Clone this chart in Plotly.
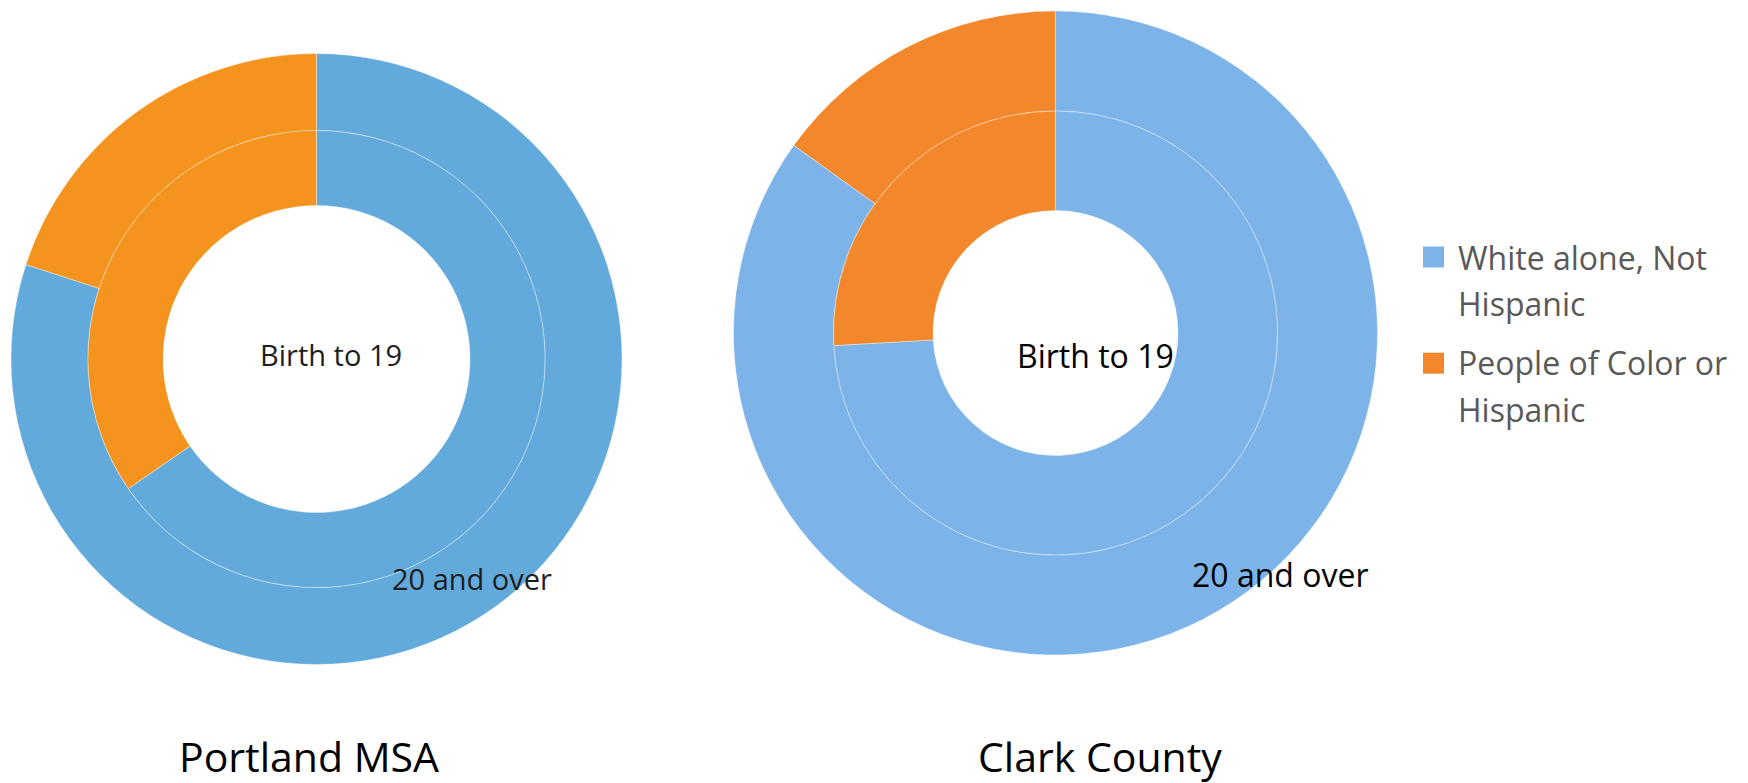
import plotly.graph_objects as go

# browser body margin (the figure div starts 8px from the window corner)
OFF = 8
SCREEN_W, SCREEN_H = 1748, 783
W, H = SCREEN_W - OFF, SCREEN_H - OFF

# ---------------- data ----------------
categories = ["White alone, Not Hispanic", "People of Color or Hispanic"]
ring_labels = ["Birth to 19", "20 and over"]
chart_titles = ["Portland MSA", "Clark County"]

portland_birth_to_19 = [65.4, 34.6]
portland_20_and_over = [80.0, 20.0]
clark_birth_to_19 = [74.1, 25.9]
clark_20_and_over = [84.9, 15.1]

# ---------------- styling ----------------
portland_colors = ["#62A9DC", "#F4931E"]
clark_colors = ["#7CB4EA", "#F3872C"]
legend_lines = [["White alone, Not", "Hispanic"], ["People of Color or", "Hispanic"]]
FONT = "Open Sans"


def px(x):
    return (x - OFF) / W


def py(y):
    return 1 - (y - OFF) / H


def domain(cx, cy, r):
    return dict(x=[px(cx - r), px(cx + r)], y=[py(cy + r), py(cy - r)])


fig = go.Figure()

donuts = [
    # cx, cy, r_out, r_mid, r_hole (screen px), inner values, outer values, colors
    (316.5, 359, 305.5, 228.5, 153.5, portland_birth_to_19, portland_20_and_over, portland_colors),
    (1055.5, 333, 322, 222, 122.5, clark_birth_to_19, clark_20_and_over, clark_colors),
]

for cx, cy, r_out, r_mid, r_hole, inner, outer, cols in donuts:
    fig.add_trace(go.Pie(
        labels=categories, values=outer, domain=domain(cx, cy, r_out),
        hole=r_mid / r_out, sort=False, direction="clockwise", rotation=0,
        textinfo="none", showlegend=False,
        marker=dict(colors=cols, line=dict(color="rgba(255,255,255,0.45)", width=0.8)),
    ))
    fig.add_trace(go.Pie(
        labels=categories, values=inner, domain=domain(cx, cy, r_mid),
        hole=r_hole / r_mid, sort=False, direction="clockwise", rotation=0,
        textinfo="none", showlegend=False,
        marker=dict(colors=cols, line=dict(color="rgba(255,255,255,0.45)", width=0.8)),
    ))

annotations = []


def add_text(text, x, y, size, color, xanchor="center"):
    annotations.append(dict(
        text=text, x=px(x), y=py(y), xref="paper", yref="paper",
        xanchor=xanchor, yanchor="middle", showarrow=False,
        font=dict(family=FONT, size=size, color=color),
    ))


# ring labels
add_text(ring_labels[0], 331, 354, 29, "#1e1e1e")
add_text(ring_labels[1], 472, 578, 29, "#1e1e1e")
add_text(ring_labels[0], 1095.5, 356, 32, "#000000")
add_text(ring_labels[1], 1279.5, 574, 32, "#000000")

# titles
add_text(chart_titles[0], 309, 756, 41, "#000000")
add_text(chart_titles[1], 1100, 756, 41, "#000000")

# custom legend
shapes = []
sq_tops = [246.5, 352.7]
line_centers = [[257, 303], [363, 409]]
for i, cat in enumerate(categories):
    shapes.append(dict(
        type="rect", xref="paper", yref="paper",
        x0=px(1423), x1=px(1444), y0=py(sq_tops[i] + 21), y1=py(sq_tops[i]),
        fillcolor=clark_colors[i], line=dict(width=0),
    ))
    for j, ln in enumerate(legend_lines[i]):
        add_text(ln, 1456, line_centers[i][j], 32, "#595959", xanchor="left")

fig.update_layout(
    width=W, height=H,
    margin=dict(l=0, r=0, t=0, b=0),
    paper_bgcolor="white", plot_bgcolor="white",
    showlegend=False,
    annotations=annotations, shapes=shapes,
)

fig.write_html("out.html")
